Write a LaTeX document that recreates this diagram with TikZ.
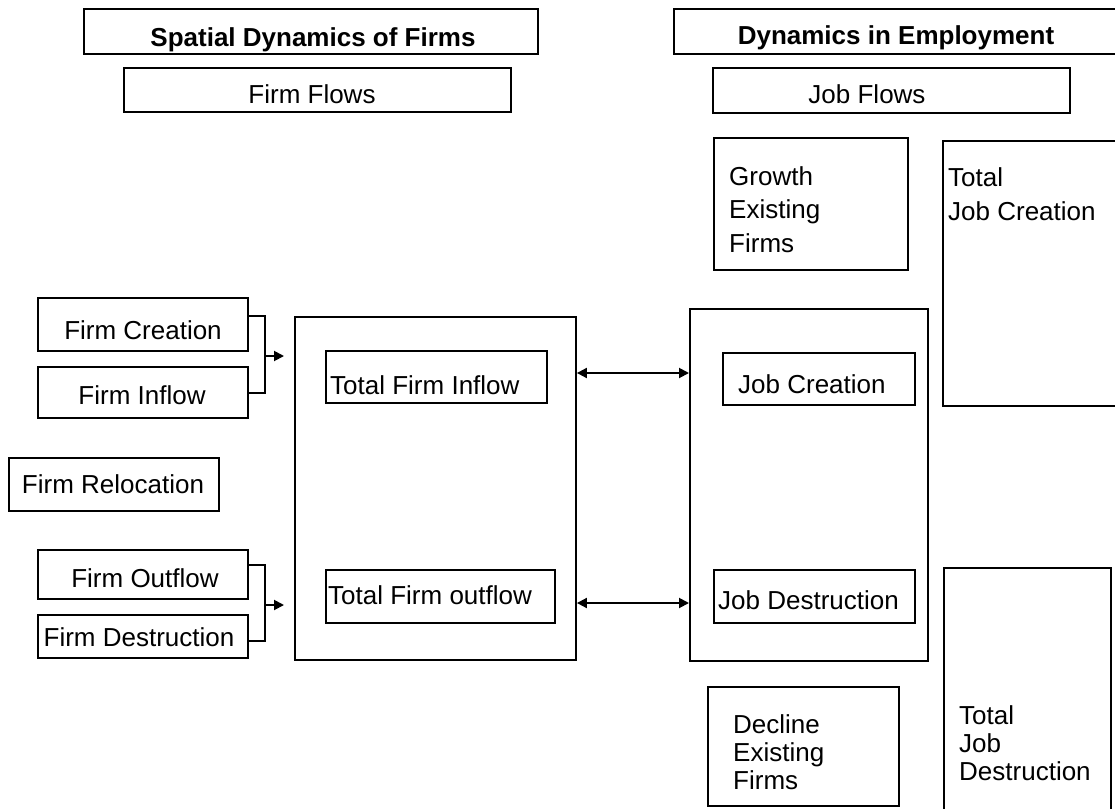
\documentclass[tikz,border=0pt]{standalone}
\usepackage{fontspec}
\setmainfont{Liberation Sans}
\usetikzlibrary{arrows.meta,calc}
\begin{document}
\begin{tikzpicture}[x=1pt,y=-1pt,
  box/.style={draw,line width=1.9pt,inner sep=0pt},
  txt/.style={inner sep=0pt,font=\fontsize{26}{30}\selectfont},
  ttl/.style={inner sep=0pt,font=\fontsize{26}{30}\selectfont\bfseries},
  conn/.style={line width=1.9pt},
  tip/.style={-{Triangle[length=10pt,width=10pt]}},
  dtip/.style={{Triangle[length=10pt,width=10pt]}-{Triangle[length=10pt,width=10pt]}}]
\clip (0,0) rectangle (1115,808);
\fill[white] (0,0) rectangle (1115,808);
% boxes
\node[box,anchor=north west,minimum width=454pt,minimum height=45pt] (T1) at (83,8) {};
\node[box,anchor=north west,minimum width=452pt,minimum height=45pt] (T2) at (673,8) {};
\node[box,anchor=north west,minimum width=387pt,minimum height=44pt] (FF) at (123,67) {};
\node[box,anchor=north west,minimum width=357pt,minimum height=45pt] (JF) at (712,67) {};
\node[box,anchor=north west,minimum width=194pt,minimum height=132pt] (GEF) at (713,137) {};
\node[box,anchor=north west,minimum width=183pt,minimum height=265pt] (TJC) at (942,140) {};
\node[box,anchor=north west,minimum width=210pt,minimum height=53pt] (FC) at (37,297) {};
\node[box,anchor=north west,minimum width=210pt,minimum height=51pt] (FI) at (37,366) {};
\node[box,anchor=north west,minimum width=210pt,minimum height=53pt] (FR) at (8,457) {};
\node[box,anchor=north west,minimum width=210pt,minimum height=49pt] (FO) at (37,549) {};
\node[box,anchor=north west,minimum width=210pt,minimum height=43pt] (FD) at (37,614) {};
\node[box,anchor=north west,minimum width=281pt,minimum height=343pt] (LB) at (294,316) {};
\node[box,anchor=north west,minimum width=221pt,minimum height=52pt] (TFI) at (325,350) {};
\node[box,anchor=north west,minimum width=229pt,minimum height=53pt] (TFO) at (325,569) {};
\node[box,anchor=north west,minimum width=238pt,minimum height=352pt] (RB) at (689,308) {};
\node[box,anchor=north west,minimum width=192pt,minimum height=52pt] (JC) at (722,352) {};
\node[box,anchor=north west,minimum width=201pt,minimum height=53pt] (JD) at (713,569) {};
\node[box,anchor=north west,minimum width=191pt,minimum height=119pt] (DEF) at (707,686) {};
\node[box,anchor=north west,minimum width=167pt,minimum height=253pt] (TJD) at (943,567) {};
% texts
\node[ttl,anchor=base] (t1) at (313,47) {Spatial Dynamics of Firms};
\node[ttl,anchor=base] (t2) at (896,45) {Dynamics in Employment};
\node[txt,anchor=base] (tff) at (312,103) {Firm Flows};
\node[txt,anchor=base] (tjf) at (867,103) {Job Flows};
\node[txt,anchor=base] (tfc) at (143,339) {Firm Creation};
\node[txt,anchor=base] (tfi) at (142,404) {Firm Inflow};
\node[txt,anchor=base] (tfr) at (113,493) {Firm Relocation};
\node[txt,anchor=base] (tfo) at (145,587) {Firm Outflow};
\node[txt,anchor=base] (tfd) at (139,646) {Firm Destruction};
\node[txt,anchor=base west] (ttfi) at (330,394) {Total Firm Inflow};
\node[txt,anchor=base west] (ttfo) at (328,604) {Total Firm outflow};
\node[txt,anchor=base west] (tjc) at (738,393) {Job Creation};
\node[txt,anchor=base west] (tjd) at (718,609) {Job Destruction};
\node[txt,anchor=base west] (g1) at (729,185) {Growth};
\node[txt,anchor=base west] (g2) at (729,218) {Existing};
\node[txt,anchor=base west] (g3) at (729,252) {Firms};
\node[txt,anchor=base west] (c1) at (948,186) {Total};
\node[txt,anchor=base west] (c2) at (948,220) {Job Creation};
\node[txt,anchor=base west] (d1) at (733,733) {Decline};
\node[txt,anchor=base west] (d2) at (733,761) {Existing};
\node[txt,anchor=base west] (d3) at (733,789) {Firms};
\node[txt,anchor=base west] (e1) at (959,724) {Total};
\node[txt,anchor=base west] (e2) at (959,752) {Job};
\node[txt,anchor=base west] (e3) at (959,780) {Destruction};
% connectors
\coordinate (ua) at (265,316);
\coordinate (ub) at (265,393);
\coordinate (um) at (265,356);
\coordinate (ut) at (284,356);
\draw[conn] (ua -| FC.east) -- (ua) -- (ub) -- (ub -| FI.east);
\draw[conn,tip] (um) -- (ut);
\coordinate (la) at (265,565);
\coordinate (lb) at (265,641);
\coordinate (lm) at (265,605);
\coordinate (lt) at (284,605);
\draw[conn] (la -| FO.east) -- (la) -- (lb) -- (lb -| FD.east);
\draw[conn,tip] (lm) -- (lt);
\coordinate (y1) at (0,373);
\coordinate (y2) at (0,603);
\draw[conn,dtip] (y1 -| LB.east) -- (y1 -| RB.west);
\draw[conn,dtip] (y2 -| LB.east) -- (y2 -| RB.west);
\end{tikzpicture}
\end{document}
